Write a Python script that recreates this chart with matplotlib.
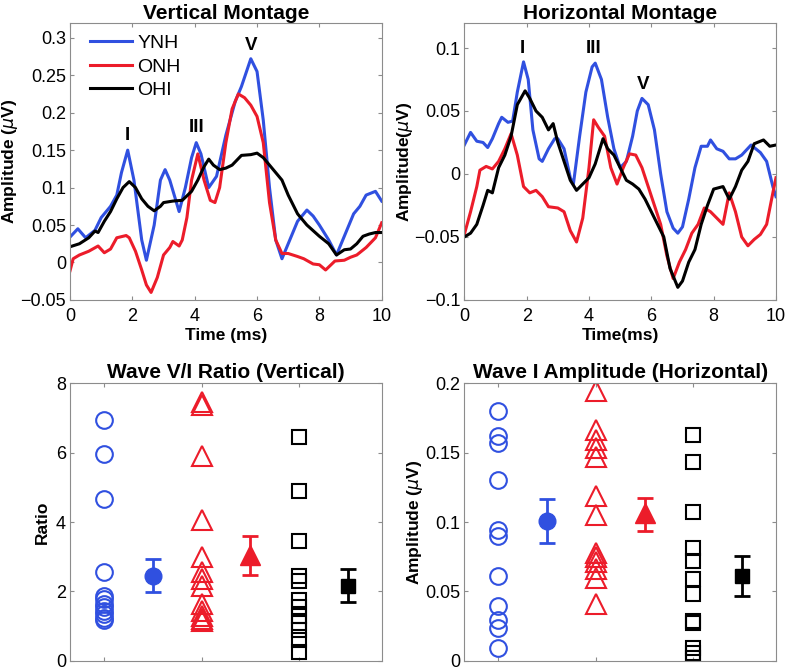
import matplotlib
matplotlib.use("Agg")
import matplotlib.pyplot as plt
from matplotlib.ticker import FuncFormatter

plt.rcParams['font.family'] = ['Liberation Sans', 'DejaVu Sans']
plt.rcParams['mathtext.fontset'] = 'dejavusans'

BLUE = '#3050e0'
RED = '#ec1c2a'
BLACK = '#000000'

# ---- vertical montage waveforms (time ms, amplitude uV)
v_ynh_t = [0, 0.25, 0.5, 0.8, 1.0, 1.3, 1.5, 1.65, 1.85, 2.05, 2.3, 2.45, 2.7, 2.9, 3.05, 3.2, 3.5,
           3.7, 3.9, 4.05, 4.2, 4.45, 4.7, 5.0, 5.3, 5.5, 5.8, 6.0, 6.2, 6.4, 6.6, 6.8, 7.0, 7.3, 7.6,
           7.8, 8.0, 8.3, 8.55, 8.8, 9.1, 9.3, 9.5, 9.8, 10]
v_ynh_y = [0.034, 0.045, 0.033, 0.043, 0.06, 0.075, 0.09, 0.12, 0.15, 0.11, 0.03, 0.003, 0.05, 0.11,
           0.124, 0.11, 0.068, 0.1, 0.14, 0.16, 0.145, 0.1, 0.115, 0.17, 0.215, 0.235, 0.272, 0.255,
           0.19, 0.1, 0.03, 0.005, 0.025, 0.055, 0.07, 0.062, 0.05, 0.03, 0.01, 0.035, 0.065, 0.075,
           0.09, 0.095, 0.082]

v_onh_t = [0, 0.1, 0.3, 0.6, 0.9, 1.1, 1.3, 1.5, 1.8, 1.9, 2.1, 2.3, 2.45, 2.6, 2.8, 3.0, 3.2, 3.3,
           3.5, 3.6, 3.75, 3.9, 4.1, 4.3, 4.5, 4.65, 4.8, 5.0, 5.2, 5.4, 5.6, 5.8, 6.0, 6.2, 6.4, 6.6,
           6.8, 7.0, 7.3, 7.5, 7.8, 8.0, 8.2, 8.5, 8.8, 9.0, 9.2, 9.5, 9.8, 10]
v_onh_y = [-0.011, 0.005, 0.01, 0.015, 0.022, 0.013, 0.018, 0.033, 0.036, 0.033, 0.015, -0.01, -0.03,
           -0.04, -0.02, 0.01, 0.02, 0.028, 0.022, 0.03, 0.06, 0.11, 0.145, 0.11, 0.083, 0.08, 0.1,
           0.16, 0.205, 0.225, 0.22, 0.21, 0.195, 0.16, 0.08, 0.03, 0.012, 0.012, 0.008, 0.005,
           -0.002, -0.003, -0.01, 0.002, 0.003, 0.007, 0.01, 0.02, 0.033, 0.053]

v_ohi_t = [0, 0.3, 0.6, 0.8, 0.9, 1.1, 1.3, 1.5, 1.7, 1.9, 2.1, 2.3, 2.5, 2.7, 2.9, 3.0, 3.3, 3.6,
           3.9, 4.1, 4.3, 4.45, 4.6, 4.8, 5.0, 5.2, 5.5, 5.8, 6.0, 6.2, 6.5, 6.8, 7.0, 7.3, 7.6, 8.0,
           8.3, 8.55, 8.8, 9.0, 9.2, 9.4, 9.6, 9.8, 10]
v_ohi_y = [0.021, 0.025, 0.033, 0.042, 0.04, 0.055, 0.068, 0.085, 0.1, 0.108, 0.1, 0.085, 0.075,
           0.069, 0.075, 0.08, 0.082, 0.083, 0.095, 0.11, 0.128, 0.138, 0.13, 0.124, 0.126, 0.13,
           0.143, 0.144, 0.146, 0.14, 0.125, 0.11, 0.09, 0.065, 0.05, 0.035, 0.025, 0.01, 0.017,
           0.018, 0.025, 0.035, 0.038, 0.04, 0.04]

# ---- horizontal montage waveforms
h_ynh_t = [0, 0.2, 0.4, 0.6, 0.75, 0.9, 1.1, 1.2, 1.4, 1.55, 1.7, 1.9, 2.05, 2.2, 2.4, 2.5, 2.7,
           2.9, 3.0, 3.2, 3.4, 3.5, 3.7, 3.9, 4.1, 4.2, 4.4, 4.6, 4.8, 5.0, 5.2, 5.4, 5.55, 5.7, 5.9,
           6.1, 6.3, 6.5, 6.7, 6.85, 7.0, 7.2, 7.4, 7.6, 7.8, 7.9, 8.1, 8.3, 8.5, 8.7, 8.9, 9.2, 9.5,
           9.7, 9.9, 10]
h_ynh_y = [0.023, 0.033, 0.026, 0.025, 0.021, 0.028, 0.04, 0.045, 0.041, 0.042, 0.065, 0.089, 0.075,
           0.035, 0.012, 0.01, 0.02, 0.028, 0.028, 0.02, -0.003, -0.008, 0.03, 0.065, 0.085, 0.088,
           0.075, 0.045, 0.02, 0.005, 0.01, 0.03, 0.05, 0.06, 0.055, 0.035, 0.0, -0.03, -0.043,
           -0.047, -0.042, -0.02, 0.005, 0.022, 0.022, 0.027, 0.02, 0.018, 0.012, 0.012, 0.015,
           0.023, 0.017, 0.01, -0.01, -0.018]

h_onh_t = [0, 0.2, 0.4, 0.5, 0.7, 0.9, 1.1, 1.3, 1.5, 1.7, 1.9, 2.1, 2.3, 2.5, 2.7, 3.0, 3.2, 3.4,
           3.6, 3.8, 4.0, 4.15, 4.3, 4.5, 4.7, 4.9, 5.1, 5.3, 5.5, 5.7, 5.9, 6.1, 6.3, 6.5, 6.7, 6.9,
           7.1, 7.3, 7.5, 7.7, 7.9, 8.1, 8.3, 8.5, 8.7, 8.9, 9.1, 9.3, 9.5, 9.7, 9.9, 10]
h_onh_y = [-0.048, -0.03, -0.01, 0.003, 0.006, 0.004, 0.01, 0.02, 0.032, 0.015, -0.01, -0.015,
           -0.013, -0.018, -0.026, -0.027, -0.03, -0.045, -0.054, -0.035, 0.005, 0.043, 0.037, 0.03,
           0.005, -0.008, 0.005, 0.016, 0.015, 0.005, -0.01, -0.025, -0.04, -0.065, -0.083, -0.07,
           -0.06, -0.047, -0.04, -0.027, -0.03, -0.035, -0.04, -0.015, -0.03, -0.05, -0.057, -0.052,
           -0.048, -0.04, -0.015, -0.003]

h_ohi_t = [0, 0.2, 0.4, 0.6, 0.75, 0.9, 1.1, 1.3, 1.5, 1.7, 1.95, 2.1, 2.3, 2.5, 2.7, 2.85, 3.0,
           3.2, 3.4, 3.6, 3.8, 4.0, 4.2, 4.45, 4.6, 4.8, 5.0, 5.2, 5.4, 5.6, 5.8, 6.0, 6.2, 6.4, 6.6,
           6.85, 7.0, 7.2, 7.4, 7.6, 7.8, 8.0, 8.3, 8.5, 8.7, 8.9, 9.1, 9.3, 9.6, 9.8, 10]
h_ohi_y = [-0.05, -0.047, -0.04, -0.025, -0.013, -0.015, 0.005, 0.015, 0.03, 0.055, 0.066, 0.06,
           0.05, 0.045, 0.035, 0.04, 0.025, 0.01, -0.005, -0.013, -0.008, -0.003, 0.008, 0.028,
           0.02, 0.015, 0.005, -0.005, -0.008, -0.012, -0.02, -0.03, -0.04, -0.05, -0.075, -0.09,
           -0.085, -0.07, -0.06, -0.04, -0.025, -0.012, -0.01, -0.02, -0.01, 0.003, 0.01, 0.024,
           0.027, 0.022, 0.023]

# ---- wave V/I ratio (vertical): individuals and mean +/- error
ratio_ynh = [6.93, 5.97, 4.67, 2.57, 1.88, 1.78, 1.65, 1.55, 1.45, 1.35, 1.25, 1.18]
ratio_onh = [7.47, 7.38, 5.89, 4.06, 3.0, 2.55, 2.35, 2.15, 1.65, 1.45, 1.3, 1.2, 1.15]
ratio_ohi = [6.44, 4.9, 3.44, 2.45, 2.3, 1.75, 1.55, 1.3, 1.1, 0.9, 0.6, 0.25]
ratio_mean = [2.45, 3.05, 2.16]
ratio_err_lo = [0.47, 0.57, 0.46]
ratio_err_hi = [0.48, 0.55, 0.48]

# ---- wave I amplitude (horizontal)
amp_ynh = [0.180, 0.162, 0.157, 0.130, 0.0945, 0.090, 0.0614, 0.0398, 0.0294, 0.024, 0.0096]
amp_onh = [0.194, 0.166, 0.159, 0.153, 0.147, 0.119, 0.105, 0.078, 0.075, 0.071, 0.066, 0.060,
           0.041]
amp_ohi = [0.163, 0.143, 0.107, 0.081, 0.072, 0.059, 0.048, 0.029, 0.027, 0.0096, 0.006, 0.0024]
amp_mean = [0.1007, 0.1065, 0.061]
amp_err_lo = [0.0157, 0.013, 0.0145]
amp_err_hi = [0.0157, 0.0111, 0.0144]

groups = ['YNH', 'ONH', 'OHI']
colors = [BLUE, RED, BLACK]
markers = ['o', '^', 's']
msizes = [12, 14, 10]


def fmt(v, pos):
    s = '%g' % round(v, 4)
    return s.replace('-', '\u2212')


def style(ax):
    for sp in ax.spines.values():
        sp.set_color('#8c8c8c')
        sp.set_linewidth(0.8)
    ax.tick_params(direction='in', top=True, right=True, length=3, color='#8c8c8c',
                   labelsize=13, labelcolor='black', pad=3)
    ax.tick_params(axis='x', pad=6)
    ax.yaxis.set_major_formatter(FuncFormatter(fmt))


fig = plt.figure(figsize=(7.87, 6.71), dpi=100)

ax1 = fig.add_axes([0.089, 0.553, 0.396, 0.413])
ax2 = fig.add_axes([0.590, 0.553, 0.396, 0.413])
ax3 = fig.add_axes([0.089, 0.015, 0.396, 0.414])
ax4 = fig.add_axes([0.590, 0.015, 0.396, 0.414])

lw = 2.2
ax1.plot(v_ynh_t, v_ynh_y, color=BLUE, lw=lw, label='YNH')
ax1.plot(v_onh_t, v_onh_y, color=RED, lw=lw, label='ONH')
ax1.plot(v_ohi_t, v_ohi_y, color=BLACK, lw=lw, label='OHI')
ax1.set_xlim(0, 10)
ax1.set_ylim(-0.05, 0.32)
ax1.set_yticks([-0.05, 0, 0.05, 0.1, 0.15, 0.2, 0.25, 0.3])
ax1.set_xticks([0, 2, 4, 6, 8, 10])
ax1.set_title('Vertical Montage', fontsize=15, fontweight='bold', pad=3)
ax1.set_xlabel('Time (ms)', fontsize=12.5, fontweight='bold', labelpad=2)
ax1.set_ylabel(r'Amplitude ($\mu$V)', fontsize=12.5, fontweight='bold', labelpad=0)
for txt, tx, ty in [('I', 1.85, 0.17), ('III', 4.05, 0.18), ('V', 5.8, 0.29)]:
    ax1.text(tx, ty, txt, ha='center', va='center', fontsize=13.5, fontweight='bold')
ax1.legend(loc='upper left', frameon=False, fontsize=14, handlelength=2.2,
           handletextpad=0.25, labelspacing=0.3, borderaxespad=0.2,
           bbox_to_anchor=(0.025, 1.0))
style(ax1)

ax2.plot(h_ynh_t, h_ynh_y, color=BLUE, lw=lw)
ax2.plot(h_onh_t, h_onh_y, color=RED, lw=lw)
ax2.plot(h_ohi_t, h_ohi_y, color=BLACK, lw=lw)
ax2.set_xlim(0, 10)
ax2.set_ylim(-0.1, 0.12)
ax2.set_yticks([-0.1, -0.05, 0, 0.05, 0.1])
ax2.set_xticks([0, 2, 4, 6, 8, 10])
ax2.set_title('Horizontal Montage', fontsize=15, fontweight='bold', pad=3)
ax2.set_xlabel('Time(ms)', fontsize=12.5, fontweight='bold', labelpad=2)
ax2.set_ylabel(r'Amplitude($\mu$V)', fontsize=12.5, fontweight='bold', labelpad=0)
for txt, tx, ty in [('I', 1.85, 0.1), ('III', 4.15, 0.1), ('V', 5.75, 0.071)]:
    ax2.text(tx, ty, txt, ha='center', va='center', fontsize=13.5, fontweight='bold')
style(ax2)


def scatter_panel(ax, indiv, means, lo, hi):
    for i, vals in enumerate(indiv):
        xs = [2 * i + 1] * len(vals)
        ax.plot(xs, vals, linestyle='none', marker=markers[i], markersize=msizes[i],
                markerfacecolor='none', markeredgecolor=colors[i], markeredgewidth=1.5)
        ax.errorbar([2 * i + 2], [means[i]], yerr=[[lo[i]], [hi[i]]], fmt=markers[i],
                    color=colors[i], markersize=msizes[i], elinewidth=2, capsize=6,
                    capthick=2)
    ax.set_xlim(0.3, 6.7)
    ax.set_xticks([1, 3, 5])
    ax.set_xticklabels(['', '', ''])


scatter_panel(ax3, [ratio_ynh, ratio_onh, ratio_ohi], ratio_mean, ratio_err_lo, ratio_err_hi)
ax3.set_ylim(0, 8)
ax3.set_yticks([0, 2, 4, 6, 8])
ax3.set_title('Wave V/I Ratio (Vertical)', fontsize=15, fontweight='bold', pad=4)
ax3.set_ylabel('Ratio', fontsize=12.5, fontweight='bold', labelpad=4)
style(ax3)

scatter_panel(ax4, [amp_ynh, amp_onh, amp_ohi], amp_mean, amp_err_lo, amp_err_hi)
ax4.set_ylim(0, 0.2)
ax4.set_yticks([0, 0.05, 0.1, 0.15, 0.2])
ax4.set_title('Wave I Amplitude (Horizontal)', fontsize=15, fontweight='bold', pad=4)
ax4.set_ylabel(r'Amplitude ($\mu$V)', fontsize=12.5, fontweight='bold', labelpad=0)
style(ax4)

fig.savefig('out.png', dpi=100)
